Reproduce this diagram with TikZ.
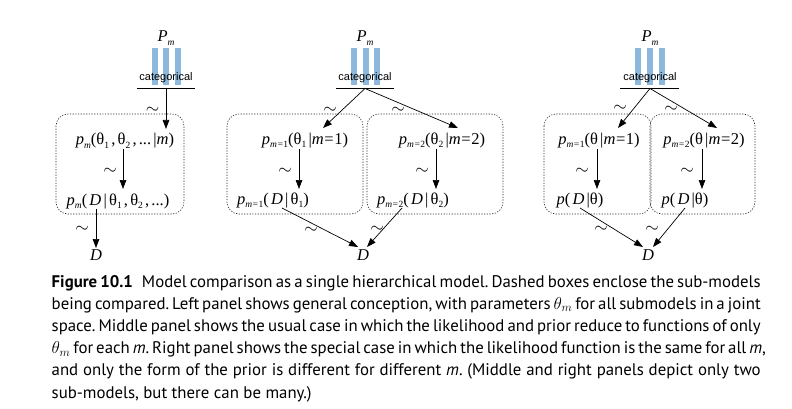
\documentclass[tikz,border=0pt]{standalone}
\usepackage{fontspec}
\setmainfont{PT Sans}
\newfontfamily\dgfont{Liberation Serif}
\newfontfamily\catfont{Liberation Sans}
\usetikzlibrary{arrows.meta}
\definecolor{barblue}{RGB}{141,183,219}
\newcommand\dsub[1]{\raisebox{-3.5pt}{\fontsize{9.5}{9.5}\selectfont #1}}
\newcommand\lsp{\hspace{2.2pt}}
\newcommand\eqs{\hspace{0.6pt}=\hspace{0.6pt}}
\frenchspacing
\tikzset{
  lab/.style={font=\dgfont\fontsize{16.5}{16.5}\selectfont, inner sep=0pt, anchor=base},
  til/.style={font=\fontsize{19}{19}\selectfont, inner sep=0pt},
  arr/.style={-{Triangle[length=9pt,width=6.5pt]}, line width=0.7pt},
  subbox/.style={draw=black!85, dash pattern=on 1.2pt off 1.5pt, line width=0.6pt, rounded corners=12pt},
  bar/.style={fill=barblue},
  catlab/.style={font=\catfont\fontsize{11}{11}\selectfont, inner sep=0pt, anchor=base},
  capt/.style={font=\fontsize{16.8}{16.8}\selectfont, inner sep=0pt, anchor=base west},
}
\begin{document}
\begin{tikzpicture}[x=1pt,y=-1pt]
\useasboundingbox (0,0) rectangle (792,409);

% ---------- LEFT PANEL ----------
\node[lab] (Pl) at (166,42) {\textit{P}\dsub{\itshape m}};
\fill[bar] (151.5,48.5) rectangle (157.5,85);
\fill[bar] (163.2,48.5) rectangle (169.2,85);
\fill[bar] (175,48.5) rectangle (181,85);
\node[catlab] (catl) at (166,81) {categorical};
\draw[line width=0.7pt] (137,88.3) -- (195,88.3);
\coordinate (catlo) at (166,88.3);
\draw[subbox] (56,114) rectangle (184,214);
\node[lab] (lt) at (125,145) {\textit{p}\dsub{\itshape m}(θ\dsub{1}\lsp,\lsp θ\dsub{2}\lsp,\lsp ...\lsp|\textit{m})};
\node[lab] (lb) at (118,205) {\textit{p}\dsub{\itshape m}(\lsp\textit{D}\lsp|\lsp θ\dsub{1}\lsp,\lsp θ\dsub{2}\lsp,\lsp ...)};
\node[lab] (Dl) at (96,260) {\textit{D}};
\coordinate (la1) at (166,129);
\coordinate (la2s) at (123,149);
\coordinate (la2e) at (123,189);
\coordinate (la3s) at (96,209);
\coordinate (la3e) at (96,248);
\draw[arr] (catlo) -- (la1);
\draw[arr] (la2s) -- (la2e);
\draw[arr] (la3s) -- (la3e);
\node[til] (tl1) at (152.5,110.5) {$\sim$};
\node[til] (tl2) at (110,171.5) {$\sim$};
\node[til] (tl3) at (82,229.5) {$\sim$};

% ---------- MIDDLE PANEL ----------
\node[lab] (Pm) at (365,42) {\textit{P}\dsub{\itshape m}};
\fill[bar] (350.5,48.5) rectangle (356.5,85);
\fill[bar] (362.5,48.5) rectangle (368.5,85);
\fill[bar] (374.2,48.5) rectangle (380.2,85);
\node[catlab] (catm) at (365,81) {categorical};
\draw[line width=0.7pt] (336,88.3) -- (394,88.3);
\coordinate (catmo) at (365,88.5);
\draw[subbox] (227,114) rectangle (363,214);
\draw[subbox] (367,114) rectangle (503,214);
\node[lab] (m1t) at (305,144) {\textit{p}\dsub{\itshape m=\upshape 1}(θ\dsub{1}\lsp|\textit{m}\eqs 1)};
\node[lab] (m2t) at (442,144) {\textit{p}\dsub{\itshape m=\upshape 2}(θ\dsub{2}\lsp|\textit{m}\eqs 2)};
\node[lab] (m1b) at (273,204) {\textit{p}\dsub{\itshape m=\upshape 1}(\lsp\textit{D}\lsp|\lsp θ\dsub{1})};
\node[lab] (m2b) at (413,204) {\textit{p}\dsub{\itshape m=\upshape 2}(\lsp\textit{D}\lsp|\lsp θ\dsub{2})};
\node[lab] (Dm) at (363,260) {\textit{D}};
\coordinate (ma1) at (323,128);
\coordinate (ma2) at (458,128);
\coordinate (mb1s) at (299,149);
\coordinate (mb1e) at (299,189);
\coordinate (mb2s) at (436,149);
\coordinate (mb2e) at (436,189);
\coordinate (mc1s) at (282,208);
\coordinate (mc1e) at (358,247);
\coordinate (mc2s) at (402,208);
\coordinate (mc2e) at (367,247);
\draw[arr] (catmo) -- (ma1);
\draw[arr] (catmo) -- (ma2);
\draw[arr] (mb1s) -- (mb1e);
\draw[arr] (mb2s) -- (mb2e);
\draw[arr] (mc1s) -- (mc1e);
\draw[arr] (mc2s) -- (mc2e);
\node[til] (tm1) at (330,110) {$\sim$};
\node[til] (tm2) at (398,110) {$\sim$};
\node[til] (tm3) at (285,171) {$\sim$};
\node[til] (tm4) at (422,171) {$\sim$};
\node[til] (tm5) at (311,230) {$\sim$};
\node[til] (tm6) at (377,229.5) {$\sim$};

% ---------- RIGHT PANEL ----------
\node[lab] (Pr) at (650,42) {\textit{P}\dsub{\itshape m}};
\fill[bar] (635,48.5) rectangle (641,85);
\fill[bar] (647,48.5) rectangle (653,85);
\fill[bar] (659,48.5) rectangle (665,85);
\node[catlab] (catr) at (650,81) {categorical};
\draw[line width=0.7pt] (620,88.3) -- (679,88.3);
\coordinate (catro) at (650,88.5);
\draw[subbox] (544,114) rectangle (651,214);
\draw[subbox] (650,114) rectangle (755,214);
\node[lab] (r1t) at (599,144) {\textit{p}\dsub{\itshape m=\upshape 1}(θ\lsp|\textit{m}\eqs 1)};
\node[lab] (r2t) at (704,144) {\textit{p}\dsub{\itshape m=\upshape 2}(θ\lsp|\textit{m}\eqs 2)};
\node[lab] (r1b) at (580,204) {\textit{p}(\lsp\textit{D}\lsp|θ)};
\node[lab] (r2b) at (685,204) {\textit{p}(\lsp\textit{D}\lsp|θ)};
\node[lab] (Dr) at (648,260) {\textit{D}};
\coordinate (ra1) at (618,128);
\coordinate (ra2) at (717,128);
\coordinate (rb1s) at (597,149);
\coordinate (rb1e) at (597,189);
\coordinate (rb2s) at (702,149);
\coordinate (rb2e) at (702,189);
\coordinate (rc1s) at (580,208);
\coordinate (rc1e) at (643,247);
\coordinate (rc2s) at (685,208);
\coordinate (rc2e) at (653,247);
\draw[arr] (catro) -- (ra1);
\draw[arr] (catro) -- (ra2);
\draw[arr] (rb1s) -- (rb1e);
\draw[arr] (rb2s) -- (rb2e);
\draw[arr] (rc1s) -- (rc1e);
\draw[arr] (rc2s) -- (rc2e);
\node[til] (tr1) at (620,108.5) {$\sim$};
\node[til] (tr2) at (671,109) {$\sim$};
\node[til] (tr3) at (582,171) {$\sim$};
\node[til] (tr4) at (687,171) {$\sim$};
\node[til] (tr5) at (601,229.5) {$\sim$};
\node[til] (tr6) at (652,229) {$\sim$};

% ---------- CAPTION ----------
\node[capt] (c1) at (51.5,287) {\makebox[709pt][s]{\textbf{Figure 10.1}\hspace{9pt}Model comparison as a single hierarchical model. Dashed boxes enclose the sub-models}};
\node[capt] (c2) at (51.5,309.2) {\makebox[709pt][s]{being compared. Left panel shows general conception, with parameters $\theta_m$ for all submodels in a joint}};
\node[capt] (c3) at (51.5,331.4) {\makebox[709pt][s]{space. Middle panel shows the usual case in which the likelihood and prior reduce to functions of only}};
\node[capt] (c4) at (51.5,353.6) {\makebox[709pt][s]{$\theta_m$ for each \textit{m}. Right panel shows the special case in which the likelihood function is the same for all \textit{m},}};
\node[capt] (c5) at (51.5,375.8) {\makebox[709pt][s]{and only the form of the prior is different for different \textit{m}. (Middle and right panels depict only two}};
\node[capt] (c6) at (51.5,398) {sub-models, but there can be many.)};
\end{tikzpicture}
\end{document}
